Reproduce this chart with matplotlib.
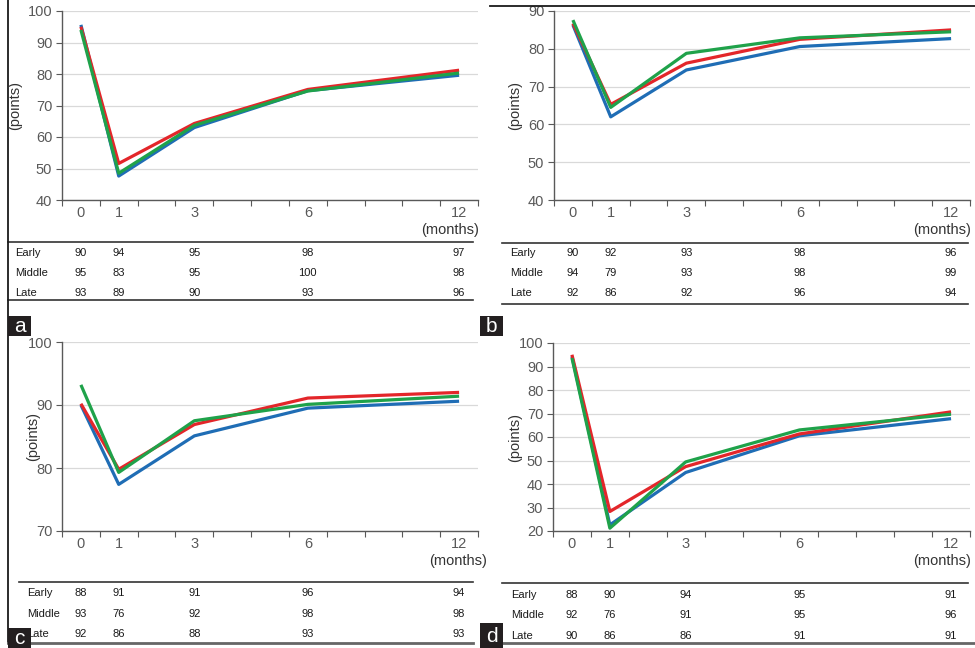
import numpy as np
import matplotlib
matplotlib.use("Agg")
from matplotlib import pyplot as plt
from matplotlib import transforms
from matplotlib.patches import Rectangle
from matplotlib.lines import Line2D

plt.rcParams['font.family'] = ['Liberation Sans', 'DejaVu Sans']

# time points and the category slot each one sits in (11 slots on the axis)
months = ['0', '1', '3', '6', '12']
slots = [0, 1, 3, 6, 10]
groups = ['Early', 'Middle', 'Late']
colors = ['#1f6db5', '#e3262a', '#1fa24a']

# curves (blue, red, green)
a_blue = [95.6, 47.6, 63.0, 74.7, 79.6]
a_red = [95.0, 51.6, 64.3, 75.1, 81.2]
a_green = [94.0, 48.5, 63.7, 74.6, 80.3]

b_blue = [86.3, 62.0, 74.4, 80.6, 82.7]
b_red = [86.7, 65.3, 76.2, 82.5, 85.0]
b_green = [87.6, 64.5, 78.8, 82.9, 84.5]

c_blue = [90.0, 77.4, 85.1, 89.5, 90.6]
c_red = [90.2, 79.8, 86.9, 91.1, 92.0]
c_green = [93.2, 79.3, 87.5, 90.1, 91.4]

d_blue = [94.3, 22.6, 44.9, 60.5, 67.8]
d_red = [95.0, 28.3, 47.4, 61.3, 70.7]
d_green = [93.6, 21.2, 49.4, 63.0, 69.7]

# numbers of patients in the table under each chart
a_table = [[90, 94, 95, 98, 97], [95, 83, 95, 100, 98], [93, 89, 90, 93, 96]]
b_table = [[90, 92, 93, 98, 96], [94, 79, 93, 98, 99], [92, 86, 92, 96, 94]]
c_table = [[88, 91, 91, 96, 94], [93, 76, 92, 98, 98], [92, 86, 88, 93, 93]]
d_table = [[88, 90, 94, 95, 91], [92, 76, 91, 95, 96], [90, 86, 86, 91, 91]]

W, H = 975, 648
fig = plt.figure(figsize=(W / 100, H / 100), dpi=100)


def fx(x):
    return x / W


def fy(y):
    return 1 - y / H


def panel(rect, series, ylim, ystep, table, letter, cfg):
    left, top, right, bottom = rect
    ax = fig.add_axes([fx(left), fy(bottom), fx(right - left), (bottom - top) / H])
    for vals, c in zip(series, colors):
        ax.plot(slots, vals, color=c, lw=2.3, solid_capstyle='butt', zorder=3)
    ax.set_xlim(-0.5, 10.5)
    ax.set_ylim(*ylim)
    ax.set_yticks(np.arange(ylim[0], ylim[1] + 0.1, ystep))
    ax.set_xticks(np.arange(-0.5, 10.6, 1))
    ax.set_xticklabels([])
    ax.grid(axis='y', color='#d9d9d9', lw=0.9)
    ax.set_axisbelow(True)
    for s in ['top', 'right']:
        ax.spines[s].set_visible(False)
    for s in ['left', 'bottom']:
        ax.spines[s].set_color('#595959')
        ax.spines[s].set_linewidth(1.0)
    ax.tick_params(axis='y', length=4, color='#595959', labelsize=10.5,
                   labelcolor='#595959', pad=3)
    ax.tick_params(axis='x', length=4, color='#595959')

    tr = transforms.blended_transform_factory(ax.transData, fig.transFigure)
    for s, m in zip(slots, months):
        fig.text(s, fy(bottom + 13), m, transform=tr, ha='center', va='center',
                 fontsize=10.5, color='#595959')
    fig.text(fx(cfg['months_x']), fy(bottom + 30), '(months)', ha='center',
             va='center', fontsize=10.5, color='#333333')
    fig.text(fx(cfg['points_x']), fy((top + bottom) / 2), '(points)',
             rotation=90, ha='center', va='center', fontsize=10.5, color='#333333')

    # table
    t_top, t_bot = cfg['table_y']
    x0, x1 = cfg['table_x']
    fig.add_artist(Line2D([fx(x0), fx(x1)], [fy(t_top), fy(t_top)],
                          color='#333333', lw=1.2))
    if t_bot is not None:
        fig.add_artist(Line2D([fx(x0), fx(x1)], [fy(t_bot), fy(t_bot)],
                              color='#333333', lw=1.2))
    for r, (g, row) in enumerate(zip(groups, table)):
        yy = fy(cfg['rows_y'][r])
        fig.text(fx(cfg['label_x']), yy, g, ha='left', va='center',
                 fontsize=8, color='#1a1a1a')
        for s, v in zip(slots, row):
            fig.text(s, yy, str(v), transform=tr, ha='center', va='center',
                     fontsize=8, color='#1a1a1a')

    # panel letter
    bx0, by0, bx1, by1 = cfg['box']
    fig.add_artist(Rectangle((fx(bx0), fy(by1)), fx(bx1 - bx0), (by1 - by0) / H,
                             facecolor='#231f20', edgecolor='none', zorder=5))
    fig.text(fx((bx0 + bx1) / 2), fy((by0 + by1) / 2 + 1), letter, ha='center',
             va='center', fontsize=15, color='white', zorder=6)
    return ax


panel((62, 11, 478, 200), [a_blue, a_red, a_green], (40, 100), 10, a_table, 'a',
      dict(months_x=450, points_x=15, table_y=(242, 300), table_x=(8, 473),
           rows_y=(253, 273, 293), label_x=15, box=(8, 316, 31, 336)))
panel((554, 11, 970, 200), [b_blue, b_red, b_green], (40, 90), 10, b_table, 'b',
      dict(months_x=942, points_x=515, table_y=(243, 304), table_x=(502, 968),
           rows_y=(253, 273, 293), label_x=510, box=(480, 316, 503, 336)))
panel((62, 342, 478, 531), [c_blue, c_red, c_green], (70, 100), 10, c_table, 'c',
      dict(months_x=458, points_x=33, table_y=(582, None), table_x=(19, 473),
           rows_y=(593, 614, 634), label_x=27, box=(8, 628, 31, 648)))
panel((553, 343, 970, 531), [d_blue, d_red, d_green], (20, 100), 10, d_table, 'd',
      dict(months_x=942, points_x=515, table_y=(583, None), table_x=(502, 968),
           rows_y=(595, 615, 636), label_x=511, box=(480, 623, 503, 648)))

# scan frame lines
fig.add_artist(Line2D([fx(8), fx(8)], [fy(0), fy(643)], color='#1a1a1a', lw=1.3))
fig.add_artist(Line2D([fx(490), fx(975)], [fy(6), fy(6)], color='#1a1a1a', lw=1.3))
fig.add_artist(Line2D([fx(8), fx(473)], [fy(643), fy(643)], color='#666666', lw=2))
fig.add_artist(Line2D([fx(490), fx(975)], [fy(643), fy(643)], color='#666666', lw=2))

fig.savefig('out.png', dpi=100)
